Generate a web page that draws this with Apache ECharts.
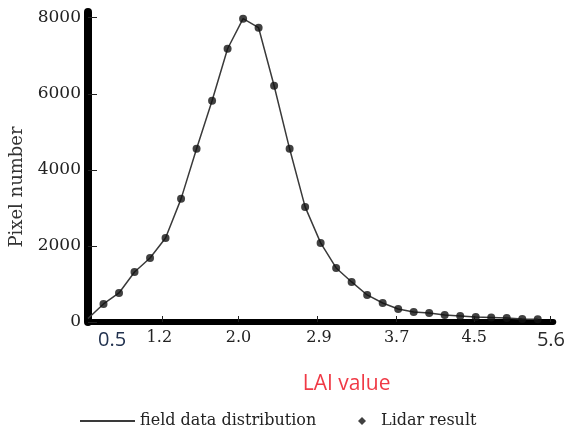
<!DOCTYPE html>
<html>
<head>
<meta charset="utf-8">
<script src="https://cdn.jsdelivr.net/npm/echarts@6/dist/echarts.min.js"></script>
<style>html,body{margin:0;padding:0;background:#fff}#c{width:568px;height:432px}</style>
</head>
<body>
<div id="c"></div>
<script>
// bin positions along the LAI axis (bin index units)
var bins = [0, 1, 2, 3, 4, 5, 6, 7, 8, 9, 10, 11, 12, 13, 14, 15, 16, 17, 18, 19, 20, 21, 22, 23, 24, 25, 26, 27, 28, 29];
// field data distribution (line)
var fieldValues = [90, 474, 763, 1316, 1684, 2210, 3237, 4553, 5816, 7184, 7974, 7737, 6211, 4553, 3026, 2079, 1421, 1053, 711, 500, 342, 263, 237, 184, 158, 132, 120, 105, 80, 70];
// Lidar result (points), bins 1..29
var lidarBins = [1, 2, 3, 4, 5, 6, 7, 8, 9, 10, 11, 12, 13, 14, 15, 16, 17, 18, 19, 20, 21, 22, 23, 24, 25, 26, 27, 28, 29];
var lidarValues = [474, 763, 1316, 1684, 2210, 3237, 4553, 5816, 7184, 7974, 7737, 6211, 4553, 3026, 2079, 1421, 1053, 711, 500, 342, 263, 237, 184, 158, 132, 120, 105, 80, 70];
// x tick labels (LAI values) and where they sit on the bin axis
var xTickLabels = ['0.5', '1.2', '2.0', '2.9', '3.7', '4.5', '5.6'];
var xTickAt = [1.55, 4.6, 9.7, 14.9, 19.9, 24.9, 29.85];
var xTickMarks = [4.8, 9.7, 14.8, 19.9, 24.9, 29.8];
var yTicks = [0, 2000, 4000, 6000, 8000];

var fieldData = bins.map(function (b, i) { return [b, fieldValues[i]]; });
var lidarData = lidarBins.map(function (b, i) { return [b, lidarValues[i]]; });

var SERIF = 'DejaVu Serif';
var chart = echarts.init(document.getElementById('c'), null, {renderer: 'canvas'});
chart.setOption({
  backgroundColor: '#ffffff',
  animation: false,
  grid: {left: 88, right: 13, top: 12, bottom: 110},
  xAxis: {
    type: 'value', min: 0, max: 30,
    name: 'LAI value', nameLocation: 'middle', nameGap: 52,
    nameTextStyle: {color: '#f03a46', fontSize: 21, fontFamily: 'Open Sans', padding: [0, 0, 0, 52]},
    axisLine: {show: true, lineStyle: {color: '#000', width: 6}},
    axisTick: {show: true, inside: true, length: 6, lineStyle: {color: '#222', width: 1}, customValues: xTickMarks},
    splitLine: {show: false},
    axisLabel: {
      customValues: xTickAt, margin: 8,
      formatter: function (v) {
        var i = xTickAt.indexOf(v);
        if (i < 0) return '';
        var t = xTickLabels[i];
        if (i === 0) return '{a|' + t + '}';
        if (i === xTickLabels.length - 1) return '{b|' + t + '}';
        return '{s|' + t + '}';
      },
      rich: {
        a: {fontFamily: 'Open Sans', fontSize: 20, color: '#22324f'},
        b: {fontFamily: 'Open Sans', fontSize: 20, color: '#2a2a2a'},
        s: {fontFamily: SERIF, fontSize: 16, color: '#222'}
      }
    }
  },
  yAxis: {
    type: 'value', min: 0, max: 8150,
    name: 'Pixel number', nameLocation: 'middle', nameGap: 62, nameRotate: 90,
    nameTextStyle: {color: '#333', fontSize: 18, fontFamily: SERIF, padding: [0, 40, 0, 0]},
    axisLine: {show: true, lineStyle: {color: '#000', width: 8}},
    axisTick: {show: true, inside: true, length: 9, lineStyle: {color: '#222', width: 1}, customValues: yTicks},
    splitLine: {show: false},
    axisLabel: {customValues: yTicks, margin: 7, fontFamily: SERIF, fontSize: 17, color: '#222',
      formatter: function (v) { return String(v); }}
  },
  legend: [
    {left: 75, top: 408, itemWidth: 55, itemHeight: 2, itemGap: 10,
     data: [{name: 'field data distribution', icon: 'rect'}],
     textStyle: {fontFamily: SERIF, fontSize: 16, color: '#222'}},
    {left: 353, top: 408, itemWidth: 8, itemHeight: 8,
     data: [{name: 'Lidar result', icon: 'diamond'}],
     textStyle: {fontFamily: SERIF, fontSize: 16, color: '#222', padding: [0, 0, 0, 10]}}
  ],
  series: [
    {name: 'field data distribution', type: 'line', data: fieldData, symbol: 'none',
     lineStyle: {color: '#3a3a3a', width: 1.5}, itemStyle: {color: '#3a3a3a'}, z: 2},
    {name: 'Lidar result', type: 'scatter', data: lidarData, symbol: 'circle', symbolSize: 8,
     itemStyle: {color: '#111'}, z: 3}
  ]
});
</script>
</body>
</html>
